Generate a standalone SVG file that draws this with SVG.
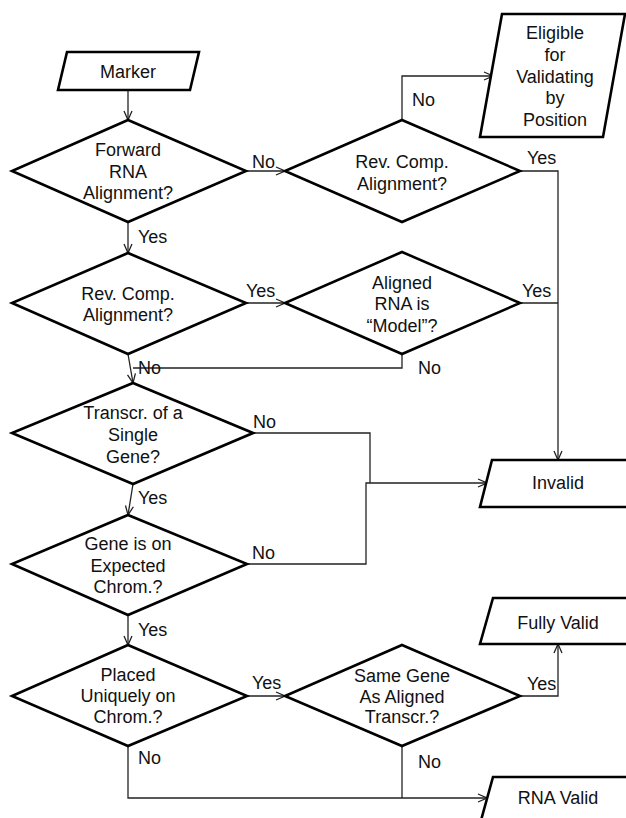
<svg xmlns="http://www.w3.org/2000/svg" width="626" height="818" viewBox="0 0 626 818">
<style>
.n{fill:#fff;stroke:#000;stroke-width:2.6;stroke-linejoin:miter}
.c{fill:none;stroke:#222;stroke-width:1.3}
text{font-family:"Liberation Sans",Arial,sans-serif;font-size:18px;fill:#111}
.m{text-anchor:middle}
</style>
<defs>
<marker id="a" viewBox="0 0 10 10" refX="10" refY="5" markerWidth="10" markerHeight="10" markerUnits="userSpaceOnUse" orient="auto">
<path d="M1,1 L10,5 L1,9" fill="none" stroke="#222" stroke-width="1.3"/>
</marker>
</defs>
<rect width="626" height="818" fill="#fff"/>
<g id="connectors">
<path class="c" d="M128,90 L128,120" marker-end="url(#a)"/>
<path class="c" d="M246,171 L285,171" marker-end="url(#a)"/>
<path class="c" d="M402,120 L402,76 L493,76" marker-end="url(#a)"/>
<path class="c" d="M520,171 L558,171 L558,460" marker-end="url(#a)"/>
<path class="c" d="M128,222 L128,253" marker-end="url(#a)"/>
<path class="c" d="M246,303 L285,303" marker-end="url(#a)"/>
<path class="c" d="M520,303 L558,303"/>
<path class="c" d="M402,354 L402,368 L133,368"/>
<path class="c" d="M128,354 L133,383" marker-end="url(#a)"/>
<path class="c" d="M253,433 L370,433 L370,483"/>
<path class="c" d="M247,564 L366,564 L366,483 L487,483" marker-end="url(#a)"/>
<path class="c" d="M133,484 L128,515" marker-end="url(#a)"/>
<path class="c" d="M128,615 L128,645" marker-end="url(#a)"/>
<path class="c" d="M247,696 L285,696" marker-end="url(#a)"/>
<path class="c" d="M520,696 L558,696 L558,644" marker-end="url(#a)"/>
<path class="c" d="M402,746 L402,798"/>
<path class="c" d="M128,746 L128,798 L487,798" marker-end="url(#a)"/>
</g>
<g id="labels">
<text x="252" y="168">No</text>
<text x="412" y="106">No</text>
<text x="527" y="164">Yes</text>
<text x="138" y="243">Yes</text>
<text x="246" y="297">Yes</text>
<text x="522" y="297">Yes</text>
<text x="138" y="374">No</text>
<text x="418" y="374">No</text>
<text x="253" y="428">No</text>
<text x="138" y="504">Yes</text>
<text x="252" y="559">No</text>
<text x="138" y="636">Yes</text>
<text x="252" y="689">Yes</text>
<text x="138" y="764">No</text>
<text x="527" y="690">Yes</text>
<text x="418" y="768">No</text>
</g>
<g id="marker">
<polygon class="n" points="67,52 199,52 190,90 58,90"/>
<text class="m" x="128" y="78">Marker</text>
</g>
<g id="d1">
<polygon class="n" points="128,120 246,171 128,222 12,171"/>
<text class="m" x="128" y="156">Forward</text>
<text class="m" x="128" y="178">RNA</text>
<text class="m" x="128" y="199">Alignment?</text>
</g>
<g id="d2">
<polygon class="n" points="402,120 520,171 402,222 285,171"/>
<text class="m" x="402" y="168">Rev. Comp.</text>
<text class="m" x="402" y="190">Alignment?</text>
</g>
<g id="eligible">
<polygon class="n" points="502,14 625,14 603,137 480,137"/>
<text class="m" x="555" y="39">Eligible</text>
<text class="m" x="555" y="61">for</text>
<text class="m" x="555" y="83">Validating</text>
<text class="m" x="555" y="104">by</text>
<text class="m" x="555" y="126">Position</text>
</g>
<g id="d3">
<polygon class="n" points="128,253 246,303 128,354 12,303"/>
<text class="m" x="128" y="300">Rev. Comp.</text>
<text class="m" x="128" y="321">Alignment?</text>
</g>
<g id="d4">
<polygon class="n" points="402,252 520,303 402,354 285,303"/>
<text class="m" x="402" y="289">Aligned</text>
<text class="m" x="402" y="310">RNA is</text>
<text class="m" x="402" y="332">“Model”?</text>
</g>
<g id="d5">
<polygon class="n" points="133,383 253,433 133,484 12,433"/>
<text class="m" x="133" y="419">Transcr. of a</text>
<text class="m" x="133" y="441">Single</text>
<text class="m" x="133" y="463">Gene?</text>
</g>
<g id="invalid">
<polygon class="n" points="492,460 640,460 628,507 480,507"/>
<text class="m" x="558" y="489">Invalid</text>
</g>
<g id="d6">
<polygon class="n" points="128,515 247,564 128,615 12,564"/>
<text class="m" x="128" y="550">Gene is on</text>
<text class="m" x="128" y="572">Expected</text>
<text class="m" x="128" y="593">Chrom.?</text>
</g>
<g id="fullyvalid">
<polygon class="n" points="493,598 640,598 628,644 480,644"/>
<text class="m" x="558" y="629">Fully Valid</text>
</g>
<g id="d7">
<polygon class="n" points="128,645 247,696 128,746 12,696"/>
<text class="m" x="128" y="681">Placed</text>
<text class="m" x="128" y="702">Uniquely on</text>
<text class="m" x="128" y="723">Chrom.?</text>
</g>
<g id="d8">
<polygon class="n" points="402,645 520,696 402,746 285,696"/>
<text class="m" x="402" y="682">Same Gene</text>
<text class="m" x="402" y="703">As Aligned</text>
<text class="m" x="402" y="723">Transcr.?</text>
</g>
<g id="rnavalid">
<polygon class="n" points="493,777 640,777 628,824 480,824"/>
<text class="m" x="558" y="804">RNA Valid</text>
</g>
</svg>
